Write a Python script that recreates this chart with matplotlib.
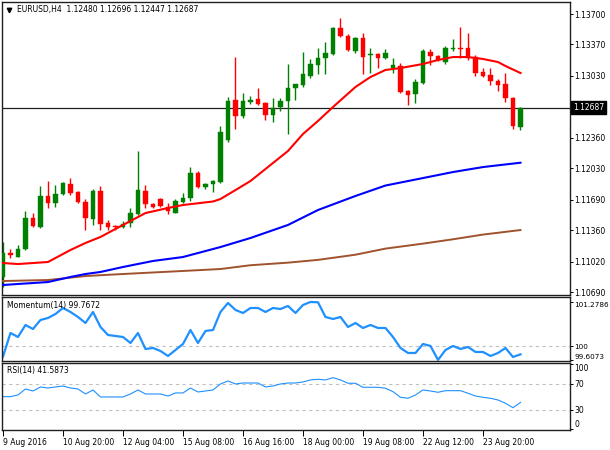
import numpy as np
import matplotlib.pyplot as plt

# EURUSD H4 bars (9 Aug 2016 12:00 onwards)
opens = [1.10853, 1.11112, 1.11069, 1.11156, 1.11491, 1.11394, 1.11730, 1.11654, 1.11751, 1.11859,
         1.11773, 1.11665, 1.11480, 1.11784, 1.11437, 1.11405, 1.11394, 1.11437, 1.11535, 1.11784,
         1.11643, 1.11697, 1.11610, 1.11545, 1.11665, 1.11708, 1.11979, 1.11827, 1.11859, 1.11881,
         1.12336, 1.12769, 1.12596, 1.12747, 1.12780, 1.12736, 1.12606, 1.12693, 1.12758, 1.12899,
         1.12931, 1.13029, 1.13148, 1.13224, 1.13267, 1.13548, 1.13462, 1.13299, 1.13440, 1.13256,
         1.13267, 1.13224, 1.13115, 1.13137, 1.12866, 1.12834, 1.12953, 1.13289, 1.13245, 1.13180,
         1.13321, 1.13332, 1.13332, 1.13234, 1.13072, 1.13040, 1.12975, 1.12942, 1.12791, 1.12480]
highs = [1.11231, 1.11156, 1.11199, 1.11567, 1.11545, 1.11838, 1.11892, 1.11849, 1.11881, 1.11924,
         1.11784, 1.11697, 1.11805, 1.11838, 1.11470, 1.11416, 1.11459, 1.11600, 1.12217, 1.11849,
         1.11654, 1.11708, 1.11654, 1.11697, 1.11762, 1.12043, 1.12000, 1.11870, 1.11903, 1.12487,
         1.12801, 1.13234, 1.12845, 1.12812, 1.12899, 1.12747, 1.12791, 1.12791, 1.13159, 1.12942,
         1.13289, 1.13213, 1.13332, 1.13397, 1.13559, 1.13657, 1.13483, 1.13451, 1.13494, 1.13332,
         1.13278, 1.13321, 1.13224, 1.13170, 1.12877, 1.12996, 1.13321, 1.13321, 1.13256, 1.13354,
         1.13429, 1.13559, 1.13494, 1.13256, 1.13115, 1.13115, 1.12996, 1.13061, 1.12801, 1.12696]
lows = [1.10744, 1.11058, 1.11069, 1.11145, 1.11394, 1.11383, 1.11600, 1.11610, 1.11740, 1.11740,
        1.11654, 1.11361, 1.11416, 1.11361, 1.11361, 1.11361, 1.11383, 1.11394, 1.11524, 1.11600,
        1.11600, 1.11610, 1.11535, 1.11545, 1.11654, 1.11675, 1.11816, 1.11805, 1.11773, 1.11870,
        1.12314, 1.12455, 1.12574, 1.12726, 1.12715, 1.12552, 1.12531, 1.12650, 1.12401, 1.12769,
        1.12910, 1.13007, 1.13050, 1.13050, 1.13256, 1.13451, 1.13299, 1.13278, 1.13050, 1.13061,
        1.13115, 1.13213, 1.13061, 1.12845, 1.12715, 1.12736, 1.12942, 1.13148, 1.13191, 1.13159,
        1.13299, 1.13224, 1.13202, 1.13029, 1.13018, 1.12931, 1.12866, 1.12747, 1.12455, 1.12447]
closes = [1.11112, 1.11091, 1.11156, 1.11491, 1.11405, 1.11730, 1.11654, 1.11751, 1.11870, 1.11762,
          1.11665, 1.11491, 1.11784, 1.11426, 1.11394, 1.11394, 1.11426, 1.11545, 1.11794, 1.11643,
          1.11610, 1.11621, 1.11567, 1.11675, 1.11708, 1.11979, 1.11827, 1.11859, 1.11892, 1.12422,
          1.12758, 1.12596, 1.12758, 1.12769, 1.12726, 1.12606, 1.12682, 1.12758, 1.12899, 1.12942,
          1.13050, 1.13159, 1.13224, 1.13278, 1.13548, 1.13462, 1.13310, 1.13440, 1.13234, 1.13267,
          1.13224, 1.13278, 1.13148, 1.12856, 1.12823, 1.12964, 1.13299, 1.13245, 1.13202, 1.13332,
          1.13332, 1.13321, 1.13224, 1.13061, 1.13029, 1.12975, 1.12931, 1.12791, 1.12487, 1.12687]

# moving averages, read at selected bars
ma_red_idx = [0, 2, 6, 9, 11, 13, 16, 19, 22, 24, 28, 29, 31, 33, 36, 38, 40, 42, 44, 47,
              49, 51, 53, 56, 58, 60, 62, 64, 66, 67, 69]
ma_red = [1.11004, 1.10993, 1.11015, 1.11145, 1.11221, 1.11286, 1.11416, 1.11545, 1.11600, 1.11632,
          1.11670, 1.11697, 1.11794, 1.11892, 1.12087, 1.12217, 1.12401, 1.12542, 1.12693, 1.12910,
          1.13018, 1.13094, 1.13115, 1.13159, 1.13202, 1.13234, 1.13234, 1.13213, 1.13180, 1.13137,
          1.13061]
ma_blue_idx = [0, 2, 6, 9, 11, 13, 16, 20, 24, 29, 33, 38, 42, 47, 51, 56, 60, 64, 69]
ma_blue = [1.10766, 1.10777, 1.10798, 1.10853, 1.10885, 1.10907, 1.10961, 1.11026, 1.11069, 1.11177,
           1.11275, 1.11416, 1.11578, 1.11730, 1.11843, 1.11924, 1.11989, 1.12043, 1.12090]
ma_brown_idx = [0, 6, 11, 16, 24, 29, 33, 38, 42, 47, 51, 56, 60, 64, 69]
ma_brown = [1.10809, 1.10820, 1.10863, 1.10885, 1.10918, 1.10939, 1.10980, 1.11008, 1.11038, 1.11094,
            1.11160, 1.11214, 1.11261, 1.11312, 1.11361]

momentum = [99.700, 100.384, 100.268, 100.615, 100.499, 100.759, 100.817, 100.932, 101.105, 100.990,
            100.846, 100.672, 100.990, 100.557, 100.326, 100.297, 100.268, 100.095, 100.384, 99.922,
            99.951, 99.864, 99.720, 99.893, 100.066, 100.470, 100.095, 100.442, 100.470, 100.990,
            101.250, 101.048, 100.961, 101.105, 101.105, 100.990, 101.105, 101.076, 101.163, 100.961,
            101.192, 101.2786, 101.270, 100.846, 100.788, 100.846, 100.557, 100.672, 100.528, 100.615,
            100.528, 100.528, 100.268, 99.951, 99.807, 99.807, 100.066, 100.009, 99.6073, 99.893,
            100.009, 99.922, 99.980, 99.836, 99.836, 99.720, 99.807, 99.951, 99.691, 99.7672]
rsi = [50.5, 50.5, 53.1, 62.3, 59.2, 65.4, 63.8, 65.4, 66.9, 63.8,
       62.3, 54.6, 60.8, 50.0, 50.0, 50.0, 50.0, 54.6, 60.8, 54.6,
       54.6, 54.6, 51.5, 56.2, 56.2, 63.8, 57.7, 59.2, 60.8, 70.0,
       74.6, 70.0, 71.5, 71.5, 71.5, 65.4, 66.9, 70.0, 71.5, 71.5,
       73.1, 76.2, 77.2, 76.2, 79.7, 76.2, 71.1, 71.1, 64.9, 64.9,
       64.9, 63.4, 58.2, 49.5, 48.0, 53.1, 60.8, 59.2, 57.2, 59.7,
       59.7, 59.7, 55.7, 51.5, 49.5, 48.0, 45.4, 40.3, 33.5, 41.5873]

price_levels = [1.13700, 1.13370, 1.13030, 1.12360, 1.12030, 1.11690, 1.11360, 1.11020, 1.10690]
last_price = 1.12687
date_ticks = [0, 8, 16, 24, 32, 40, 48, 56, 64]
date_labels = ["9 Aug 2016", "10 Aug 20:00", "12 Aug 04:00", "15 Aug 08:00", "16 Aug 16:00",
               "18 Aug 00:00", "19 Aug 08:00", "22 Aug 12:00", "23 Aug 20:00"]

GREEN = "#008000"
RED = "#ff0000"
FS = 5.5
plt.rcParams['font.family'] = ['DejaVu Sans']

fig = plt.figure(figsize=(6.1, 4.5), dpi=100)
ax_main = fig.add_axes([2 / 610, 155.3 / 450, 568 / 610, 292.7 / 450])
ax_mom = fig.add_axes([2 / 610, 89.3 / 450, 568 / 610, 64 / 450])
ax_rsi = fig.add_axes([2 / 610, 20 / 450, 568 / 610, 66.7 / 450])

for ax in (ax_main, ax_mom, ax_rsi):
    ax.set_xlim(-0.13, 75.6)
    ax.yaxis.tick_right()
    ax.tick_params(axis='y', direction='out', length=2.5, width=0.7, labelsize=FS, pad=0.8)
    ax.tick_params(axis='x', bottom=False, labelbottom=False)
    for sp in ax.spines.values():
        sp.set_color("#202020")
        sp.set_linewidth(1.0)

# --- price panel ---
x = np.arange(len(closes))
o = np.array(opens)
c = np.array(closes)
h = np.array(highs)
l = np.array(lows)
cols = np.where(c >= o, GREEN, RED)

ax_main.axhline(last_price, color="#202020", lw=0.9, zorder=1)
ax_main.vlines(x, l, h, colors=cols, lw=1.0, zorder=2)
ax_main.bar(x, np.maximum(np.abs(c - o), 0.00006), bottom=np.minimum(o, c), width=0.62,
            color=cols, edgecolor=cols, linewidth=0.3, zorder=3)
ax_main.plot(ma_brown_idx, ma_brown, color="#a0522d", lw=1.4, zorder=4)
ax_main.plot(ma_blue_idx, ma_blue, color="#0000ff", lw=1.5, zorder=4)
ax_main.plot(ma_red_idx, ma_red, color=RED, lw=1.5, zorder=4)

ax_main.set_ylim(1.10661, 1.13830)
ax_main.set_yticks(price_levels, [f"{v:.5f}" for v in price_levels])
ax_main.text(1.005, last_price, f"{last_price:.5f}", transform=ax_main.get_yaxis_transform(),
             fontsize=FS, color="white", va="center", ha="left",
             bbox=dict(facecolor="black", edgecolor="black", pad=1.2))
ax_main.plot([0.012], [0.973], marker="v", ms=3.2, color="black", transform=ax_main.transAxes)
ax_main.text(0.026, 0.973, "EURUSD,H4  1.12480 1.12696 1.12447 1.12687",
             transform=ax_main.transAxes, fontsize=FS, va="center", ha="left")

# --- momentum panel ---
ax_mom.axhline(100, color="#c0c0c0", lw=0.8, ls=(0, (3, 3)))
ax_mom.plot(x, momentum, color="#1e90ff", lw=1.6)
ax_mom.set_ylim(99.584, 101.431)
ax_mom.set_yticks([101.2786, 100, 99.6073], ["101.2786", "100", "99.6073"])
ax_mom.tick_params(axis='y', labelsize=5.2)
mt = ax_mom.yaxis.get_major_ticks()
mt[0].label2.set_va("top")
mt[2].label2.set_va("bottom")
ax_mom.text(0.009, 0.87, "Momentum(14) 99.7672", transform=ax_mom.transAxes,
            fontsize=FS, va="center", ha="left")

# --- RSI panel ---
for lev in (70, 30):
    ax_rsi.axhline(lev, color="#c0c0c0", lw=0.8, ls=(0, (3, 3)))
ax_rsi.plot(x, rsi, color="#1e90ff", lw=0.8)
ax_rsi.set_ylim(-0.8, 101.8)
ax_rsi.set_yticks([100, 70, 30, 0], ["100", "70", "30", "0"])
rt = ax_rsi.yaxis.get_major_ticks()
rt[0].label2.set_va("top")
rt[3].label2.set_va("bottom")
ax_rsi.text(0.009, 0.885, "RSI(14) 41.5873", transform=ax_rsi.transAxes,
            fontsize=FS, va="center", ha="left")

ax_rsi.tick_params(axis='x', bottom=True, labelbottom=True, direction='out', length=4,
                   width=0.7, labelsize=FS, pad=1.5)
ax_rsi.set_xticks(date_ticks, date_labels)
for lbl in ax_rsi.get_xticklabels():
    lbl.set_ha("left")

fig.savefig("out.png", dpi=100)
plt.close(fig)
